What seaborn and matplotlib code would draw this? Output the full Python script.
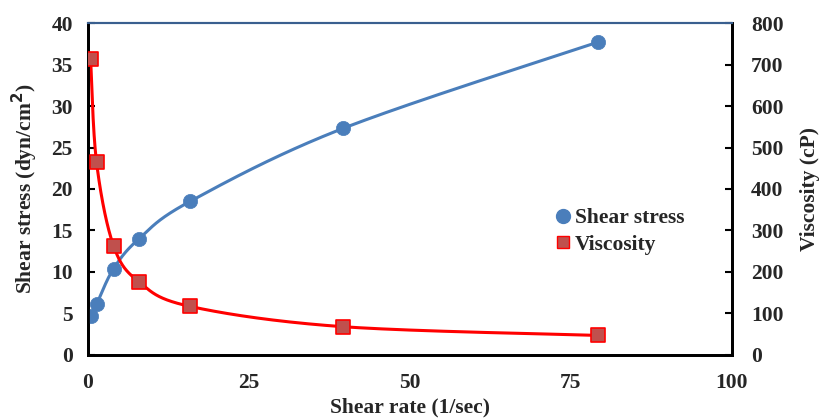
import numpy as np
import pandas as pd
import matplotlib
matplotlib.use("Agg")
import matplotlib.pyplot as plt
import seaborn as sns
from matplotlib.lines import Line2D
from matplotlib.ticker import MultipleLocator

shear_rate = [0.396, 1.32, 3.96, 7.92, 15.84, 39.6, 79.2]
shear_stress = [4.7, 6.1, 10.4, 14.0, 18.5, 27.3, 37.7]
viscosity = [713, 464, 263, 176, 117, 68, 47]

x_ticks = [0, 25, 50, 75, 100]
left_ticks = [0, 5, 10, 15, 20, 25, 30, 35, 40]
right_ticks = [0, 100, 200, 300, 400, 500, 600, 700, 800]

BLUE = "#4A7EBB"
RED = "#FF0000"
SQ_FACE = "#C0504D"
FS = 15.5

sns.set_theme(style="white")
plt.rcParams["font.family"] = ["Liberation Serif", "DejaVu Serif"]
plt.rcParams["font.weight"] = "bold"


def smooth(xs, ys, xscale, yscale, n=80):
    # smoothing in (approximate) screen space, like a spreadsheet "smoothed line"
    px = np.asarray(xs) / xscale * 644
    py = np.asarray(ys) / yscale * 332
    P = np.column_stack([px, py])
    P = np.vstack([P[0], P, P[-1]])
    out = []
    for i in range(1, len(P) - 2):
        p0, p1, p2, p3 = P[i - 1], P[i], P[i + 1], P[i + 2]
        c1 = p1 + (p2 - p0) / 6.0
        c2 = p2 - (p3 - p1) / 6.0
        t = np.linspace(0, 1, n)[:, None]
        c = ((1 - t) ** 3) * p1 + 3 * ((1 - t) ** 2) * t * c1 + 3 * (1 - t) * t ** 2 * c2 + t ** 3 * p2
        out.append(c if i == 1 else c[1:])
    c = np.vstack(out)
    return c[:, 0] / 644 * xscale, c[:, 1] / 332 * yscale


fig = plt.figure(figsize=(8.23, 4.2), dpi=100)
ax = fig.add_axes([0.107, 0.155, 0.782, 0.79])
ax2 = ax.twinx()

sx, sy = smooth(shear_rate, shear_stress, 100, 40)
vx, vy = smooth(shear_rate, viscosity, 100, 800)
df_s = pd.DataFrame({"x": sx, "y": sy})
df_v = pd.DataFrame({"x": vx, "y": vy})
pts = pd.DataFrame({"rate": shear_rate, "stress": shear_stress, "visc": viscosity})

sns.lineplot(data=df_s, x="x", y="y", ax=ax, sort=False, color=BLUE, lw=2.2, estimator=None)
sns.scatterplot(data=pts, x="rate", y="stress", ax=ax, color=BLUE, s=105, marker="o",
                edgecolor=BLUE, linewidth=0.5, zorder=5)
sns.lineplot(data=df_v, x="x", y="y", ax=ax2, sort=False, color=RED, lw=2.2, estimator=None)
sns.scatterplot(data=pts, x="rate", y="visc", ax=ax2, color=SQ_FACE, s=90, marker="s",
                edgecolor=RED, linewidth=1.2, zorder=5)

ax.set_xlim(0, 100)
ax.set_ylim(0, 40)
ax2.set_ylim(0, 800)
ax.set_xticks(x_ticks)
ax.xaxis.set_minor_locator(MultipleLocator(5))
ax.set_yticks(left_ticks)
ax2.set_yticks(right_ticks)

for a in (ax, ax2):
    a.tick_params(axis="both", which="both", direction="in", length=5, width=1.5, color="black",
                  labelsize=FS)
    for s in ("left", "right", "bottom"):
        a.spines[s].set_color("black")
        a.spines[s].set_linewidth(2)
    a.spines["top"].set_color("#3A5F8F")
    a.spines["top"].set_linewidth(1.5)
ax.tick_params(axis="x", which="major", pad=13)
ax.tick_params(axis="y", pad=11)
ax2.tick_params(axis="y", pad=14)
for lab in ax.get_xticklabels() + ax.get_yticklabels() + ax2.get_yticklabels():
    lab.set_fontweight("bold")

ax.set_xlabel("Shear rate (1/sec)", fontsize=FS, fontweight="bold", labelpad=3)
ax.set_ylabel("Shear stress (dyn/cm$^\\mathbf{2}$)", fontsize=FS, fontweight="bold", labelpad=8)
ax2.set_ylabel("Viscosity (cP)", fontsize=FS, fontweight="bold", labelpad=12)

handles = [
    Line2D([], [], marker="o", ls="none", color=BLUE, markersize=10),
    Line2D([], [], marker="s", ls="none", markerfacecolor=SQ_FACE, markeredgecolor=RED,
           markersize=9),
]
leg = ax2.legend(handles, ["Shear stress", "Viscosity"], loc="upper left",
                 bbox_to_anchor=(0.69, 0.50), frameon=False, handletextpad=0.0,
                 labelspacing=0.3, prop={"size": FS, "weight": "bold"}, handlelength=1.1)

fig.savefig("out.png", dpi=100)
